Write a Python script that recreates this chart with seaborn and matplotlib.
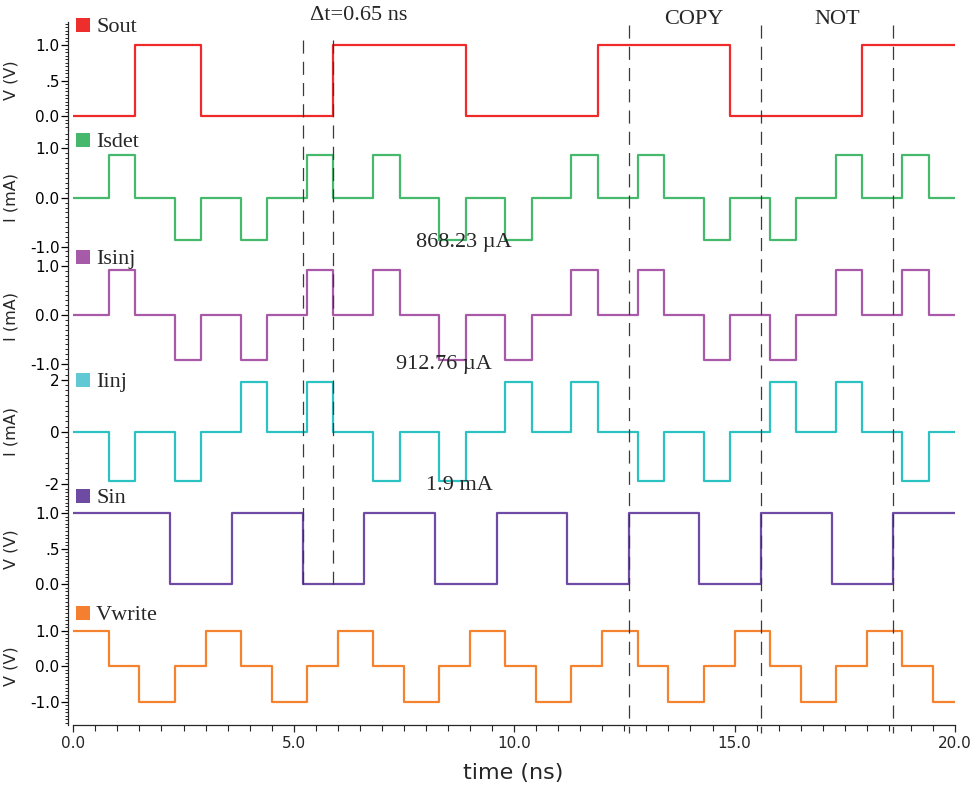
import numpy as np
import pandas as pd
import matplotlib
matplotlib.use("Agg")
import matplotlib.pyplot as plt
from matplotlib.patches import Rectangle
from matplotlib.ticker import MultipleLocator, FixedLocator, FixedFormatter
import seaborn as sns

# ---- waveform data (edge times in ns, level held until next edge) ----
sout_t = [0, 1.4, 2.9, 5.9, 8.9, 11.9, 14.9, 17.9, 20.0]
sout_v = [0, 1, 0, 1, 0, 1, 0, 1, 1]

pulse_t = [0, 0.8, 1.4, 2.3, 2.9, 3.8, 4.4, 5.3, 5.9, 6.8, 7.4, 8.3, 8.9,
           9.8, 10.4, 11.3, 11.9, 12.8, 13.4, 14.3, 14.9, 15.8, 16.4,
           17.3, 17.9, 18.8, 19.4, 20.0]
isdet_ma = [0, 0.868, 0, -0.868, 0, -0.868, 0, 0.868, 0, 0.868, 0, -0.868, 0,
            -0.868, 0, 0.868, 0, 0.868, 0, -0.868, 0, -0.868, 0,
            0.868, 0, 0.868, 0, 0]
isinj_ma = [0, 0.913, 0, -0.913, 0, -0.913, 0, 0.913, 0, 0.913, 0, -0.913, 0,
            -0.913, 0, 0.913, 0, 0.913, 0, -0.913, 0, -0.913, 0,
            0.913, 0, 0.913, 0, 0]
iinj_ma = [0, -1.9, 0, -1.9, 0, 1.9, 0, 1.9, 0, -1.9, 0, -1.9, 0,
           1.9, 0, 1.9, 0, -1.9, 0, -1.9, 0, 1.9, 0,
           1.9, 0, -1.9, 0, 0]

sin_t = [0, 2.2, 3.6, 5.2, 6.6, 8.2, 9.6, 11.2, 12.6, 14.2, 15.6, 17.2, 18.6, 20.0]
sin_v = [1, 0, 1, 0, 1, 0, 1, 0, 1, 0, 1, 0, 1, 1]

vwrite_t = [0, 0.8, 1.5, 2.3, 3.0, 3.8, 4.5, 5.3, 6.0, 6.8, 7.5, 8.3, 9.0,
            9.8, 10.5, 11.3, 12.0, 12.8, 13.5, 14.3, 15.0, 15.8, 16.5,
            17.3, 18.0, 18.8, 19.5, 20.0]
vwrite_v = [1, 0, -1, 0, 1, 0, -1, 0, 1, 0, -1, 0, 1,
            0, -1, 0, 1, 0, -1, 0, 1, 0, -1,
            0, 1, 0, -1, -1]

signal_names = ["Sout", "Isdet", "Isinj", "Iinj", "Sin", "Vwrite"]
line_colors = ["#ee2a2a", "#47b96d", "#a85aa8", "#2cc2c2", "#6f4ba6", "#f5822f"]
key_colors = ["#ee2d2d", "#45b86c", "#a65aa8", "#62c8d4", "#6e4ba3", "#f47f30"]
y_units = ["V (V)", "I (mA)", "I (mA)", "I (mA)", "V (V)", "V (V)"]
y_ticks = [[0, 0.5, 1], [-1, 0, 1], [-1, 0, 1], [-2, 0, 2], [0, 0.5, 1], [-1, 0, 1]]
y_ticklabels = [["0.0", ".5", "1.0"], ["-1.0", "0.0", "1.0"], ["-1.0", "0.0", "1.0"],
                ["-2", "0", "2"], ["0.0", ".5", "1.0"], ["-1.0", "0.0", "1.0"]]

marker_times = [5.2, 5.9, 12.6, 15.6, 18.6]
x_major = [0, 5, 10, 15, 20]
x_ticklabels = ["0.0", "5.0", "10.0", "15.0", "20.0"]

frames = [
    pd.DataFrame({"t": sout_t, "y": sout_v}),
    pd.DataFrame({"t": pulse_t, "y": isdet_ma}),
    pd.DataFrame({"t": pulse_t, "y": isinj_ma}),
    pd.DataFrame({"t": pulse_t, "y": iinj_ma}),
    pd.DataFrame({"t": sin_t, "y": sin_v}),
    pd.DataFrame({"t": vwrite_t, "y": vwrite_v}),
]

# ---- layout (pixel geometry of the stacked panels) ----
W, H = 977, 794
sns.set_theme(style="ticks")
plt.rcParams["font.family"] = ["DejaVu Sans"]
serif = ["Liberation Serif", "DejaVu Serif"]

x_left, x_right = 73.3, 955.0
panel_px = [(22, 130), (130, 250), (250, 368), (368, 490), (490, 605), (605, 725)]
y_limits = [(-0.197, 1.324), (-1.063, 1.376), (-1.082, 1.327),
            (-2.242, 2.450), (-0.292, 1.328), (-1.656, 1.724)]
minor_steps = [0.05, 0.1, 0.1, 0.2, 0.05, 0.1]
label_centers = [80, 198, 316, 432, 549, 666]
key_rows = [25, 140, 257, 380, 496, 613]

fig = plt.figure(figsize=(W / 100, H / 100), dpi=100)

for i, (name, df) in enumerate(zip(signal_names, frames)):
    top, bot = panel_px[i]
    ax = fig.add_axes([x_left / W, 1 - bot / H, (x_right - x_left) / W, (bot - top) / H])
    ax.set_facecolor("none")
    sns.lineplot(data=df, x="t", y="y", ax=ax, color=line_colors[i],
                 drawstyle="steps-post", estimator=None, sort=False,
                 linewidth=1.6)
    ax.set_xlim(0, 20)
    ax.set_ylim(*y_limits[i])

    for s in ["top", "right"]:
        ax.spines[s].set_visible(False)
    ax.spines["left"].set_position(("outward", 4))
    ax.spines["left"].set_linewidth(0.9)

    ax.yaxis.set_major_locator(FixedLocator(y_ticks[i]))
    ax.yaxis.set_major_formatter(FixedFormatter(y_ticklabels[i]))
    ax.yaxis.set_minor_locator(MultipleLocator(minor_steps[i]))
    ax.tick_params(axis="y", which="major", length=5, width=0.9, labelsize=11,
                   pad=1, colors="black")
    ax.tick_params(axis="y", which="minor", length=2.5, width=0.7)

    ax.set_ylabel(y_units[i], fontsize=11.5)
    ax.yaxis.set_label_coords((18 - x_left) / (x_right - x_left),
                              (bot - label_centers[i]) / (bot - top))

    if i < len(signal_names) - 1:
        ax.spines["bottom"].set_visible(False)
        ax.set_xticks([])
        ax.set_xlabel("")
    else:
        ax.spines["bottom"].set_linewidth(0.9)
        ax.xaxis.set_major_locator(FixedLocator(x_major))
        ax.xaxis.set_major_formatter(FixedFormatter(x_ticklabels))
        ax.xaxis.set_minor_locator(MultipleLocator(0.5))
        ax.tick_params(axis="x", which="major", length=5, width=0.9, labelsize=11, pad=3)
        ax.tick_params(axis="x", which="minor", length=4, width=0.8)
        ax.set_xlabel("time (ns)", fontsize=16)
        ax.xaxis.label.set_va("center")
        ax.xaxis.set_label_coords((513 - x_left) / (x_right - x_left),
                                  -(773 - bot) / (bot - top))

    # colour key for the trace
    yc = key_rows[i]
    fig.add_artist(Rectangle((76 / W, 1 - (yc + 7) / H), 14 / W, 14 / H,
                             transform=fig.transFigure, color=key_colors[i], lw=0))
    fig.text(96 / W, 1 - (yc + 2.5) / H, name, va="center", ha="left",
             fontsize=16, family=serif)

# ---- overlay: timing markers and annotations (x in ns, y in pixels) ----
ov = fig.add_axes([x_left / W, 0, (x_right - x_left) / W, 1], zorder=10)
ov.set_xlim(0, 20)
ov.set_ylim(H, 0)
ov.axis("off")
ov.patch.set_alpha(0)

dash_kw = dict(color="#3a3a3a", linewidth=0.9, linestyle=(0, (10.5, 6.5)))
ov.vlines(marker_times[:2], 40, 590, **dash_kw)
ov.vlines(marker_times[2:], 25, 733, **dash_kw)

ov.text(6.48, 16, "Δt=0.65 ns", ha="center", va="center", fontsize=16, family=serif)
ov.text(14.08, 20, "COPY", ha="center", va="center", fontsize=16, family=serif)
ov.text(17.32, 20, "NOT", ha="center", va="center", fontsize=16, family=serif)
ov.text(8.86, 243, "868.23 µA", ha="center", va="center", fontsize=16, family=serif)
ov.text(8.41, 365, "912.76 µA", ha="center", va="center", fontsize=16, family=serif)
ov.text(8.76, 485, "1.9 mA", ha="center", va="center", fontsize=16, family=serif)

fig.savefig("out.png", dpi=100)
